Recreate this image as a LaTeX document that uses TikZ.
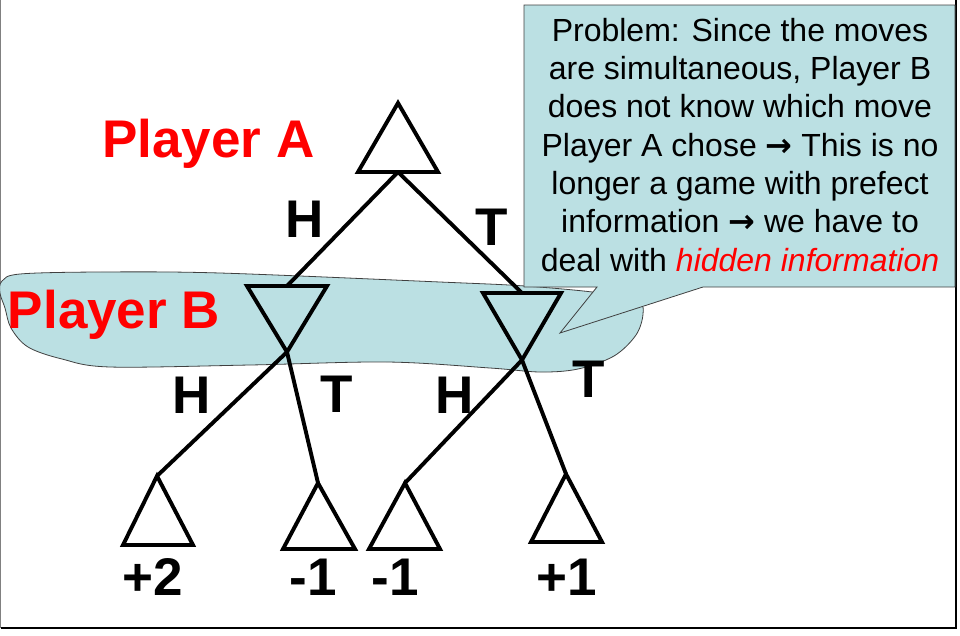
\documentclass[tikz,border=0pt]{standalone}
\usepackage{fontspec}
\setmainfont{Liberation Sans}
\newfontfamily\arrowfont{DejaVu Sans}
\newcommand\notearrow{{\arrowfont\bfseries →}}
\definecolor{infofill}{RGB}{187,224,227}
\definecolor{labelred}{RGB}{255,0,0}
\begin{document}
\begin{tikzpicture}[x=1pt,y=-1pt,
  treeline/.style={line width=3.9pt, line join=miter, line cap=butt},
  tri/.style={treeline},
  lbl/.style={font=\fontsize{53}{60}\selectfont\bfseries, inner sep=0pt, anchor=base},
  plbl/.style={lbl, text=labelred},
  infoshape/.style={fill=infofill, draw=black!75, line width=0.8pt}]
\useasboundingbox (0,0) rectangle (960,635);
% frame
\draw[gray, line width=1pt] (0.5,0) -- (0.5,628);
\draw[line width=2pt] (0.5,628) -- (956,628) -- (956,0);
% information set blob
\draw[infoshape] plot[smooth cycle, tension=0.55] coordinates {
  (2,281) (20,274) (100,272) (220,273) (440,282) (525,286) (600,293)
  (638,302) (643,314) (636,335) (614,356) (578,369) (540,372) (490,368)
  (387,362) (250,365) (110,367) (62,359) (28,347) (11,328) (5,308) (0,293)};
% tree coordinates
\coordinate (Aapex) at (398,103);
\coordinate (Aroot) at (398,172);
\coordinate (B1top) at (287,286);
\coordinate (B1bot) at (287,352);
\coordinate (B2top) at (522,293);
\coordinate (B2bot) at (522,360);
\coordinate (L1) at (157,476);
\coordinate (L2) at (318,483);
\coordinate (L3) at (405,483);
\coordinate (L4) at (566,474);
% triangles
\draw[tri] (Aapex) -- (358,172) -- (438,172) -- cycle;
\draw[tri] (247,286) -- (327,286) -- (B1bot) -- cycle;
\draw[tri] (483,293) -- (561,293) -- (B2bot) -- cycle;
\draw[tri] (L1) -- (123,545) -- (193,545) -- cycle;
\draw[tri] (L2) -- (283,549) -- (355,549) -- cycle;
\draw[tri] (L3) -- (369,549) -- (440,549) -- cycle;
\draw[tri] (L4) -- (531,542) -- (602,542) -- cycle;
% connectors
\draw[treeline] (Aroot) -- (B1top);
\draw[treeline] (Aroot) -- (B2top);
\draw[treeline] (B1bot) -- (L1);
\draw[treeline] (B1bot) -- (L2);
\draw[treeline] (B2bot) -- (L3);
\draw[treeline] (B2bot) -- (L4);
% labels
\node[plbl] (pa) at (208.5,157) {Player A};
\node[plbl] (pb) at (114,328) {Player B};
\node[lbl] (h1) at (305,237) {H};
\node[lbl] (t1) at (492,245) {T};
\node[lbl] (h2) at (192,413) {H};
\node[lbl] (t2) at (337,412) {T};
\node[lbl] (h3) at (455,413) {H};
\node[lbl] (t3) at (589,397) {T};
\node[lbl] (v1) at (153,595) {+2};
\node[lbl] (v2) at (313,595) {-1};
\node[lbl] (v3) at (395,595) {-1};
\node[lbl] (v4) at (567,595) {+1};
% callout
\draw[infoshape] (524,5) -- (955,5) -- (955,287) -- (703,287) -- (560,333)
  -- (597,287) -- (524,287) -- cycle;
\node[font=\fontsize{32}{38.3}\selectfont, align=center, inner sep=0pt, anchor=base]
  (note) at (740,271) {Problem: Since the moves\\are simultaneous, Player B\\does not know which move\\Player A chose \notearrow{} This is no\\longer a game with prefect\\information \notearrow{} we have to\\deal with \textcolor{labelred}{\itshape hidden information}};
\end{tikzpicture}
\end{document}
